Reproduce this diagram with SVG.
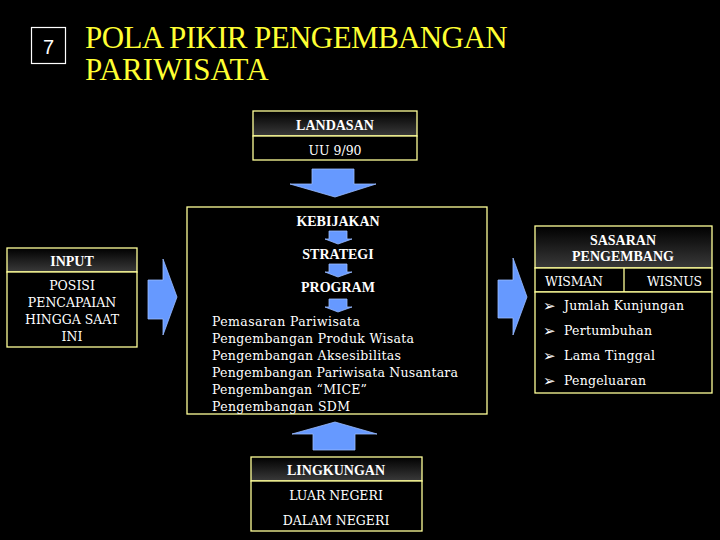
<svg xmlns="http://www.w3.org/2000/svg" width="720" height="540" viewBox="0 0 720 540">
<defs>
<linearGradient id="hdr" x1="0" y1="0" x2="0" y2="1">
<stop offset="0" stop-color="#000"/>
<stop offset="1" stop-color="#3a3a3a"/>
</linearGradient>
<style>
.box{fill:#000;stroke:#FFFF99;stroke-width:1.3}
.hd{fill:url(#hdr);stroke:#FFFF99;stroke-width:1.3}
.arr{fill:#6699FF;stroke:#99BBFF;stroke-width:0.8}
.h{font-family:"Liberation Serif",serif;font-weight:bold;font-size:14px;fill:#fff;text-anchor:middle}
.t{font-family:"DejaVu Serif","Liberation Serif",serif;font-size:12.5px;fill:#fff}
.c{text-anchor:middle}
.b{font-family:"DejaVu Sans",sans-serif;font-size:15px;fill:#fff}
.ti{font-family:"Liberation Serif",serif;font-size:31px;fill:#FFFF33;letter-spacing:-0.6px}
</style>
</defs>
<rect width="720" height="540" fill="#000"/>
<g id="title">
<rect x="31.5" y="27.5" width="34" height="36" fill="#000" stroke="#fff" stroke-width="1.2"/>
<text x="48.5" y="54" font-family="Liberation Sans, sans-serif" font-size="20" fill="#fff" text-anchor="middle">7</text>
<text class="ti" x="85" y="48">POLA PIKIR PENGEMBANGAN</text>
<text class="ti" x="85" y="80" textLength="183" lengthAdjust="spacing">PARIWISATA</text>
</g>
<g id="landasan">
<rect class="hd" x="253" y="111" width="164" height="25"/>
<rect class="box" x="253" y="136" width="164" height="24"/>
<text class="h" x="335" y="130">LANDASAN</text>
<text class="t c" x="335" y="155">UU 9/90</text>
</g>
<g id="input">
<rect class="hd" x="7" y="248" width="130" height="24"/>
<rect class="box" x="7" y="272" width="130" height="75"/>
<text class="h" x="72" y="266">INPUT</text>
<text class="t c" x="72" y="290">POSISI</text>
<text class="t c" x="72" y="307">PENCAPAIAN</text>
<text class="t c" x="72" y="324">HINGGA SAAT</text>
<text class="t c" x="72" y="341">INI</text>
</g>
<g id="main">
<rect class="box" x="187" y="207" width="300" height="207"/>
<text class="h" x="338" y="226">KEBIJAKAN</text>
<text class="h" x="338" y="259">STRATEGI</text>
<text class="h" x="338" y="292">PROGRAM</text>
<text class="t" x="212" y="326" textLength="148" lengthAdjust="spacing">Pemasaran Pariwisata</text>
<text class="t" x="212" y="343" textLength="202" lengthAdjust="spacing">Pengembangan Produk Wisata</text>
<text class="t" x="212" y="360" textLength="189" lengthAdjust="spacing">Pengembangan Aksesibilitas</text>
<text class="t" x="212" y="377" textLength="246" lengthAdjust="spacing">Pengembangan Pariwisata Nusantara</text>
<text class="t" x="212" y="394" textLength="155" lengthAdjust="spacing">Pengembangan “MICE”</text>
<text class="t" x="212" y="411" textLength="138" lengthAdjust="spacing">Pengembangan SDM</text>
</g>
<g id="sasaran">
<rect class="hd" x="535" y="226" width="177" height="42"/>
<rect class="box" x="535" y="268" width="177" height="24"/>
<rect class="box" x="535" y="292" width="177" height="101"/>
<line x1="624" y1="268" x2="624" y2="292" stroke="#FFFF99" stroke-width="1.3"/>
<text class="h" x="623" y="245">SASARAN</text>
<text class="h" x="623" y="261">PENGEMBANG</text>
<text class="t" x="545" y="286" textLength="58" lengthAdjust="spacing">WISMAN</text>
<text class="t" x="647" y="286" textLength="55" lengthAdjust="spacing">WISNUS</text>
<text class="b" x="543" y="311">➢</text><text class="t" x="564" y="310" textLength="120" lengthAdjust="spacing">Jumlah Kunjungan</text>
<text class="b" x="543" y="336">➢</text><text class="t" x="564" y="335" textLength="88" lengthAdjust="spacing">Pertumbuhan</text>
<text class="b" x="543" y="361">➢</text><text class="t" x="564" y="360" textLength="91" lengthAdjust="spacing">Lama Tinggal</text>
<text class="b" x="543" y="386">➢</text><text class="t" x="564" y="385" textLength="82" lengthAdjust="spacing">Pengeluaran</text>
</g>
<g id="lingkungan">
<rect class="hd" x="251" y="457" width="171" height="24"/>
<rect class="box" x="251" y="481" width="171" height="50"/>
<text class="h" x="336" y="475">LINGKUNGAN</text>
<text class="t c" x="336" y="500">LUAR NEGERI</text>
<text class="t c" x="336" y="525">DALAM NEGERI</text>
</g>
<g id="connectors">
<polygon class="arr" points="312,169 354,169 354,184 376,184 335,197 290,184 312,184"/>
<polygon class="arr" points="329,231 347,231 347,239 352,239 338,244 325,239 329,239"/>
<polygon class="arr" points="329,264 347,264 347,272 352,272 338,277 325,272 329,272"/>
<polygon class="arr" points="329,299 347,299 347,307 352,307 338,312 325,307 329,307"/>
<polygon class="arr" points="148,280 163,280 163,259 177,297 163,335 163,319 148,319"/>
<polygon class="arr" points="498,280 513,280 513,258 527,297 513,335 513,318 498,318"/>
<polygon class="arr" points="313,450 355,450 355,434 377,434 335,422 292,434 313,434"/>
</g>
</svg>
